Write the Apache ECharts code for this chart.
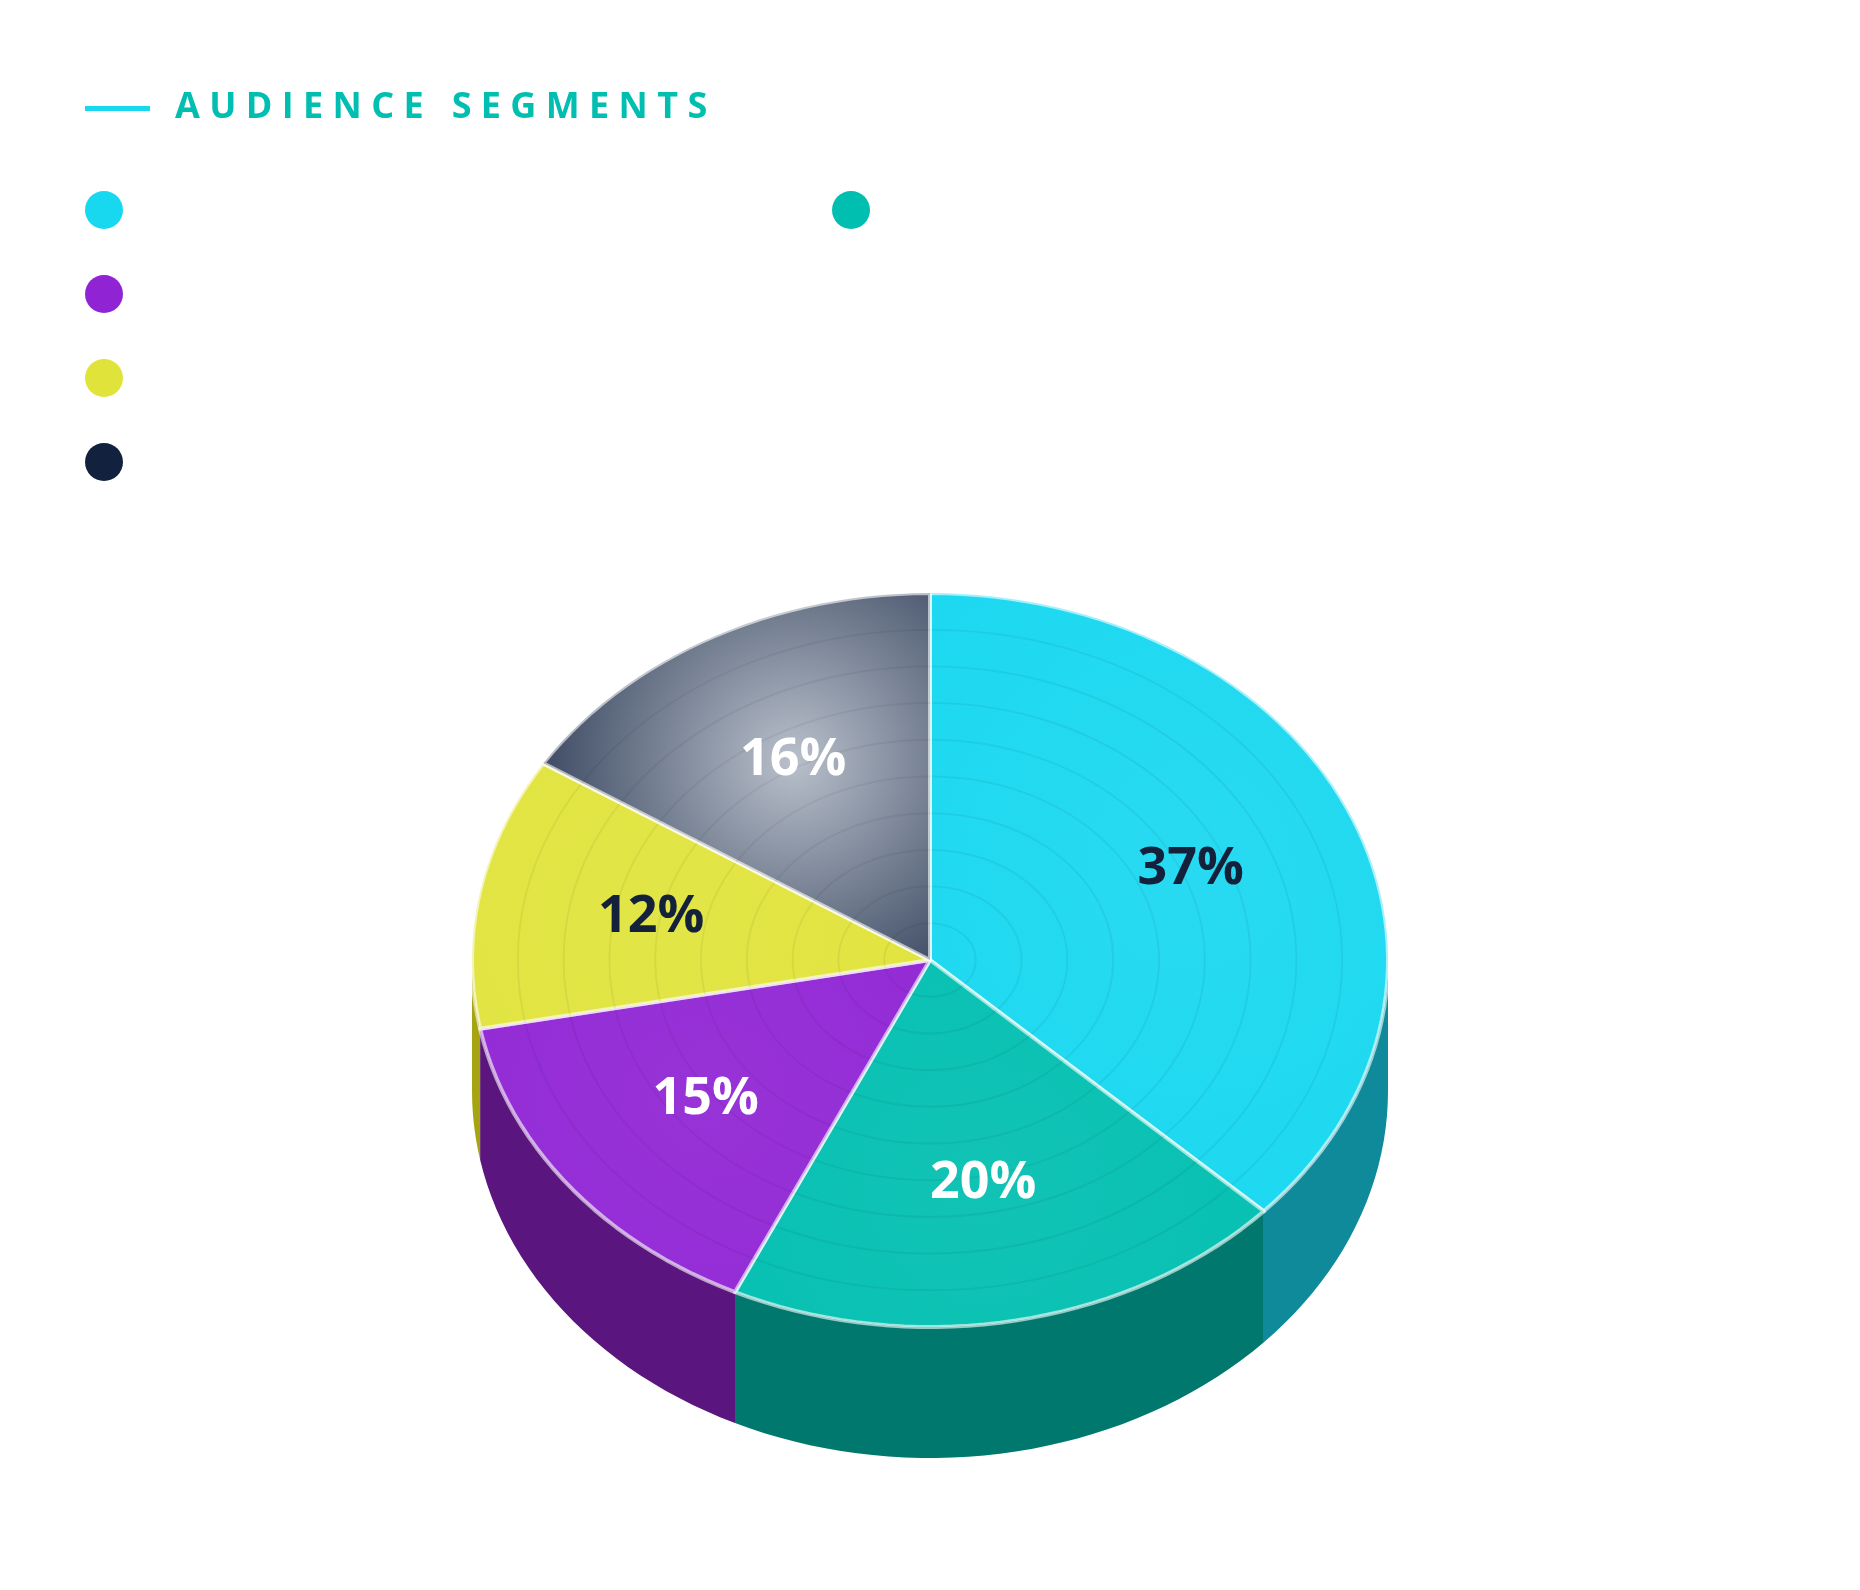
<!DOCTYPE html>
<html><head><meta charset="utf-8">
<script src="https://cdn.jsdelivr.net/npm/echarts@6/dist/echarts.min.js"></script>
<style>html,body{margin:0;background:#fff}#main{width:1860px;height:1590px}</style>
</head><body><div id="main"></div>
<script>
var segNames=['Segment A','Segment B','Segment C','Segment D','Segment E'];
var segValues=[37,20,15,12,16];
var topColors=['#18d8f0','#00bfb0','#9024d4','#e0e43a','#12223e'];
var sideColors=['#0e8a9a','#00786e','#5a167e','#a6a410','#0b1628'];
var labelColors=['#13213a','#ffffff','#ffffff','#13213a','#ffffff'];

var CX=930,CY=960,RX=458,RY=367,DEPTH=131;
var total=segValues.reduce(function(a,b){return a+b;},0);
var starts=[],ends=[],acc=0;
segValues.forEach(function(v){starts.push(acc/total*360);acc+=v;ends.push(acc/total*360);});
function pt(deg,f,dy){var r=deg*Math.PI/180;return [CX+RX*f*Math.sin(r),CY-RY*f*Math.cos(r)+(dy||0)];}
function arc(a,b,dy){var p=[],n=Math.max(2,Math.ceil((b-a)/2));for(var i=0;i<=n;i++)p.push(pt(a+(b-a)*i/n,1,dy));return p;}

var chart=echarts.init(document.getElementById('main'));
chart.setOption({
  animation:false,
  legend:[
    {left:80,top:186,orient:'vertical',itemGap:46,itemWidth:38,itemHeight:38,icon:'circle',
     data:[segNames[0],segNames[2],segNames[3],segNames[4]],formatter:function(){return '';}},
    {left:827,top:186,orient:'vertical',itemWidth:38,itemHeight:38,icon:'circle',
     data:[segNames[1]],formatter:function(){return '';}}
  ],
  graphic:[
    {type:'rect',shape:{x:85,y:106,width:65,height:5},style:{fill:'#18d8f0'}},
    {type:'text',left:175,top:90,style:{text:'A U D I E N C E   S E G M E N T S',fill:'#00bfb0',
      font:'bold 36px "Open Sans", sans-serif'}}
  ],
  series:[
    {type:'custom',coordinateSystem:'none',name:'sides',data:segValues,
     renderItem:function(params){
       var i=params.dataIndex,a=Math.max(starts[i],90),b=Math.min(ends[i],270);
       if(b<=a)return {type:'group',children:[]};
       var top=arc(a,b,0),bot=arc(a,b,DEPTH).reverse();
       return {type:'polygon',shape:{points:top.concat(bot)},style:{fill:sideColors[i]}};
     }},
  ].concat(segNames.map(function(nm,i){
    return {type:'custom',coordinateSystem:'none',name:nm,data:[segValues[i]],
      itemStyle:{color:topColors[i]},z:3,
      renderItem:function(){
        var pts=[[CX,CY]].concat(arc(starts[i],ends[i],0));
        var mid=(starts[i]+ends[i])/2,lp=pt(mid,0.62);
        var light=i===4?'#b9c0cb':echarts.color.lift(topColors[i],0.07);
        var base=i===4?'#263550':topColors[i];
        var rings=[];
        for(var k=1;k<=9;k++){rings.push({type:'ellipse',shape:{cx:CX,cy:CY,rx:RX*k/10,ry:RY*k/10},
          style:{fill:null,stroke:'rgba(0,0,0,0.05)',lineWidth:2}});}
        return {type:'group',children:[
          {type:'polygon',shape:{points:pts},style:{
            fill:new echarts.graphic.RadialGradient(lp[0],lp[1],i===4?300:520,
              [{offset:0,color:light},{offset:1,color:base}],true),
            stroke:'rgba(255,255,255,0.6)',lineWidth:4,lineJoin:'round'}},
          {type:'group',clipPath:{type:'polygon',shape:{points:pts}},children:rings},
          {type:'text',x:lp[0],y:lp[1],style:{text:segValues[i]+'%',fill:labelColors[i],
            font:'bold 52px "Open Sans", sans-serif',align:'center',verticalAlign:'middle'}}
        ]};
      }};
  }))
});
</script></body></html>
